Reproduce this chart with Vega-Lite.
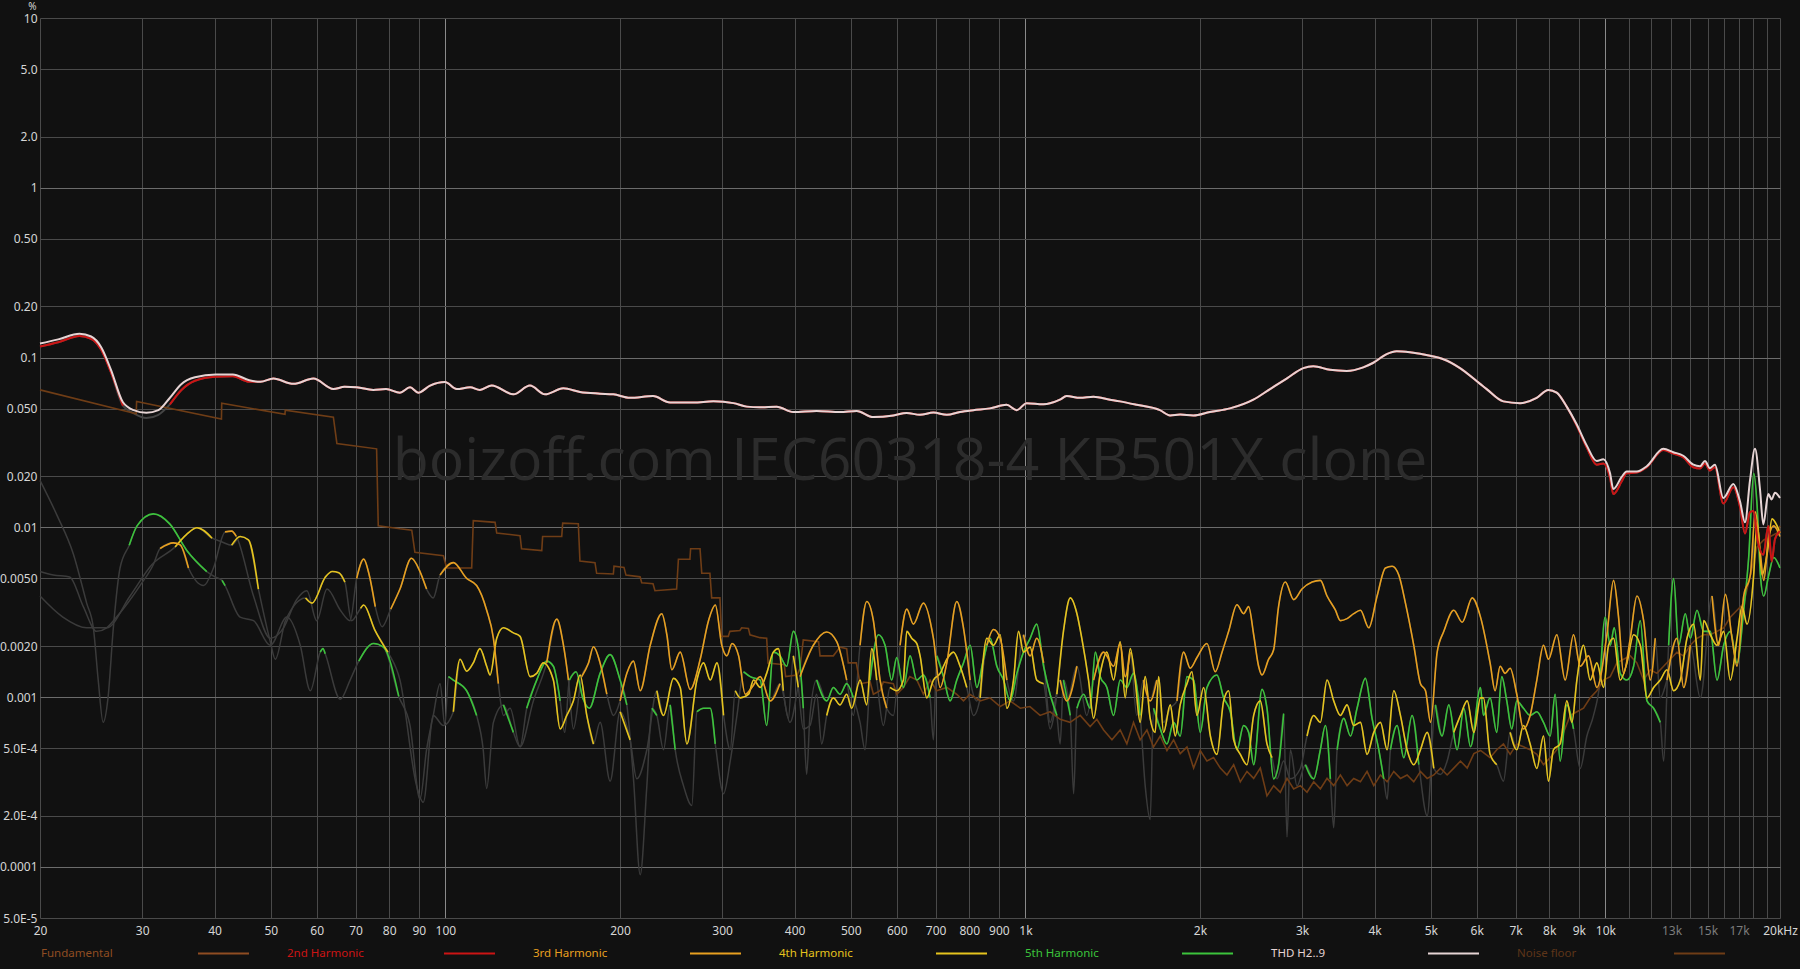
{
"$schema":"https://vega.github.io/schema/vega-lite/v6.json",
"width":1740,"height":900,
"autosize":{"type":"none"},
"padding":{"left":40,"top":18,"right":20,"bottom":51},
"background":"#111111",
"config":{"view":{"stroke":null,"fill":"#111111"},"font":"Noto Sans",
"axis":{"domain":false,"ticks":false,"labelFont":"Noto Sans","labelFontSize":12,"labelColor":"#d4d4d4","gridOpacity":1,"gridWidth":1}},
"datasets":{
"nf":[{"f":20,"v":0.0645},{"f":29.3,"v":0.0467},{"f":29.35,"v":0.0552},{"f":41.1,"v":0.0435},{"f":41.15,"v":0.0539},{"f":52.9,"v":0.0463},{"f":52.95,"v":0.049},{"f":64.1,"v":0.0446},{"f":65,"v":0.0312},{"f":76.1,"v":0.029},{"f":76.6,"v":0.0102},{"f":83.5,"v":0.0098},{"f":87.5,"v":0.00963},{"f":88.6,"v":0.00713},{"f":99.2,"v":0.0068},{"f":100.5,"v":0.00576},{"f":111,"v":0.00576},{"f":111.7,"v":0.01095},{"f":121.8,"v":0.0107},{"f":122.6,"v":0.00927},{"f":134.5,"v":0.00892},{"f":135.3,"v":0.00748},{"f":146.6,"v":0.0073},{"f":147.1,"v":0.00884},{"f":158.7,"v":0.00884},{"f":159.3,"v":0.01058},{"f":169.5,"v":0.0105},{"f":170.6,"v":0.00633},{"f":181.1,"v":0.00619},{"f":182.3,"v":0.00536},{"f":194.8,"v":0.00531},{"f":195.3,"v":0.0059},{"f":203.2,"v":0.00581},{"f":204.8,"v":0.00523},{"f":216.6,"v":0.00511},{"f":218,"v":0.00472},{"f":228,"v":0.00465},{"f":229.8,"v":0.00423},{"f":250.4,"v":0.00433},{"f":252.2,"v":0.00649},{"f":264,"v":0.00649},{"f":264.7,"v":0.00748},{"f":274.8,"v":0.00748},{"f":276.7,"v":0.00536},{"f":285.8,"v":0.00536},{"f":287.8,"v":0.00384},{"f":297.4,"v":0.00384},{"f":299.4,"v":0.00228},{"f":307.4,"v":0.00228},{"f":309.4,"v":0.00244},{"f":322,"v":0.00247},{"f":324.2,"v":0.00256},{"f":333,"v":0.00254},{"f":335,"v":0.00233},{"f":348.6,"v":0.00224},{"f":358,"v":0.00222},{"f":360,"v":0.00159},{"f":384,"v":0.00155},{"f":386,"v":0.00132},{"f":404,"v":0.00135},{"f":408.7,"v":0.00148},{"f":414,"v":0.00217},{"f":440,"v":0.00212},{"f":442.5,"v":0.00175},{"f":466.5,"v":0.00175},{"f":479.1,"v":0.00197},{"f":491.9,"v":0.00193},{"f":495,"v":0.00159},{"f":511,"v":0.00159},{"f":518.7,"v":0.0012},{"f":540,"v":0.00123},{"f":546.9,"v":0.00104},{"f":561.6,"v":0.00109},{"f":569,"v":0.00123},{"f":592,"v":0.0012},{"f":600,"v":0.00104},{"f":616,"v":0.00114},{"f":632,"v":0.00132},{"f":650,"v":0.00126},{"f":667,"v":0.00104},{"f":685,"v":0.00126},{"f":703,"v":0.00109},{"f":732,"v":0.00114},{"f":761,"v":0.00104},{"f":782,"v":0.00095},{"f":802,"v":0.00104},{"f":836,"v":0.00095},{"f":869,"v":0.00099},{"f":904.7,"v":0.00088},{"f":941,"v":0.00095},{"f":980,"v":0.00086},{"f":1018,"v":0.00088},{"f":1060,"v":0.00078},{"f":1103,"v":0.00082},{"f":1148,"v":0.00074},{"f":1194,"v":0.00071},{"f":1243,"v":0.00078},{"f":1293,"v":0.00067},{"f":1328,"v":0.00074},{"f":1364,"v":0.00064},{"f":1410,"v":0.00056},{"f":1457,"v":0.00064},{"f":1496,"v":0.00053},{"f":1536,"v":0.00071},{"f":1577,"v":0.00056},{"f":1620,"v":0.00064},{"f":1663,"v":0.000508},{"f":1708,"v":0.00059},{"f":1754,"v":0.000485},{"f":1801,"v":0.00056},{"f":1849,"v":0.000465},{"f":1899,"v":0.000508},{"f":1950,"v":0.000382},{"f":2002,"v":0.000485},{"f":2056,"v":0.00042},{"f":2111,"v":0.00044},{"f":2168,"v":0.000382},{"f":2226,"v":0.000348},{"f":2286,"v":0.0004},{"f":2347,"v":0.000317},{"f":2410,"v":0.000365},{"f":2475,"v":0.000332},{"f":2541,"v":0.000382},{"f":2609,"v":0.000262},{"f":2679,"v":0.000301},{"f":2751,"v":0.000275},{"f":2825,"v":0.000332},{"f":2901,"v":0.000288},{"f":2979,"v":0.000301},{"f":3059,"v":0.000275},{"f":3141,"v":0.000317},{"f":3225,"v":0.000288},{"f":3312,"v":0.000332},{"f":3401,"v":0.000301},{"f":3492,"v":0.000348},{"f":3586,"v":0.000301},{"f":3682,"v":0.000332},{"f":3781,"v":0.000317},{"f":3882,"v":0.000365},{"f":3987,"v":0.000301},{"f":4094,"v":0.000348},{"f":4204,"v":0.000317},{"f":4316,"v":0.000365},{"f":4432,"v":0.000332},{"f":4551,"v":0.000348},{"f":4673,"v":0.000317},{"f":4799,"v":0.000365},{"f":4928,"v":0.000332},{"f":5060,"v":0.000348},{"f":5196,"v":0.000382},{"f":5335,"v":0.000348},{"f":5478,"v":0.000382},{"f":5625,"v":0.00042},{"f":5777,"v":0.000382},{"f":5932,"v":0.000465},{"f":6091,"v":0.000485},{"f":6327,"v":0.00044},{"f":6497,"v":0.00049},{"f":6671,"v":0.00053},{"f":6851,"v":0.00046},{"f":7034,"v":0.00053},{"f":7223,"v":0.00051},{"f":7417,"v":0.00049},{"f":7617,"v":0.00046},{"f":7821,"v":0.0004},{"f":8031,"v":0.00044},{"f":8246,"v":0.00049},{"f":8468,"v":0.00062},{"f":8695,"v":0.00078},{"f":8929,"v":0.00082},{"f":9168,"v":0.00086},{"f":9415,"v":0.00099},{"f":9667,"v":0.00109},{"f":9927,"v":0.00126},{"f":10193,"v":0.00132},{"f":10467,"v":0.00159},{"f":10748,"v":0.00167},{"f":11037,"v":0.00175},{"f":11333,"v":0.00159},{"f":11638,"v":0.00126},{"f":11950,"v":0.00145},{"f":12271,"v":0.00138},{"f":12600,"v":0.00152},{"f":12939,"v":0.00167},{"f":13286,"v":0.00184},{"f":13643,"v":0.00175},{"f":14009,"v":0.00202},{"f":14385,"v":0.00222},{"f":14771,"v":0.00233},{"f":15168,"v":0.00233},{"f":15575,"v":0.00244},{"f":15993,"v":0.00256},{"f":16422,"v":0.00296},{"f":16864,"v":0.00325},{"f":17316,"v":0.00357},{"f":17781,"v":0.00524},{"f":18259,"v":0.00767},{"f":18749,"v":0.00843},{"f":19252,"v":0.00884},{"f":19769,"v":0.00927},{"f":20000,"v":0.0102}],
"h5":[{"f":20,"v":0.0189},{"f":21.4,"v":0.01176},{"f":22.83,"v":0.00697},{"f":24.07,"v":0.00358},{"f":24.72,"v":0.00256},{"f":25.2,"v":0.00126},{"f":25.7,"v":0.00071},{"f":26.2,"v":0.00099},{"f":26.76,"v":0.00256},{"f":27.48,"v":0.00576},{"f":28.5,"v":0.00785,"g":1},{"f":29.4,"v":0.0102,"g":1},{"f":31.37,"v":0.012,"g":1},{"f":33.5,"v":0.01045,"g":1},{"f":35.82,"v":0.00731,"g":1},{"f":38.78,"v":0.00549,"g":1},{"f":40.1,"v":0.0051},{"f":41.2,"v":0.00487,"g":2},{"f":41.7,"v":0.00454,"g":2},{"f":44.27,"v":0.00296},{"f":46.68,"v":0.00282},{"f":49.9,"v":0.00202},{"f":53.29,"v":0.00296},{"f":56.2,"v":0.00202},{"f":58.5,"v":0.00109},{"f":60.84,"v":0.00184,"g":3},{"f":61.5,"v":0.00193,"g":3},{"f":62.05,"v":0.0018,"g":3},{"f":65.88,"v":0.00097},{"f":68.5,"v":0.00126},{"f":70.9,"v":0.00163,"g":4},{"f":75.2,"v":0.00207,"g":4},{"f":78.2,"v":0.00197,"g":4},{"f":83.1,"v":0.00101,"g":4},{"f":86.9,"v":0.00068},{"f":90.4,"v":0.00025},{"f":92.8,"v":0.00049},{"f":95.3,"v":0.00078},{"f":97.9,"v":0.0012},{"f":99.8,"v":0.00068},{"f":101.2,"v":0.00132,"g":5},{"f":103.2,"v":0.00126,"g":5},{"f":108.8,"v":0.00109,"g":5},{"f":113.2,"v":0.00078,"g":5},{"f":116.2,"v":0.00049},{"f":117.8,"v":0.00029},{"f":121,"v":0.00071},{"f":125.9,"v":0.0009,"g":6},{"f":131,"v":0.00062,"g":6},{"f":134.5,"v":0.00051},{"f":138.1,"v":0.00086,"g":7},{"f":143.7,"v":0.00126,"g":7},{"f":149.5,"v":0.00163,"g":7},{"f":153.5,"v":0.00152,"g":7},{"f":157.7,"v":0.00095,"g":7},{"f":160.6,"v":0.00062},{"f":163.6,"v":0.00126,"g":8},{"f":168,"v":0.00141,"g":8},{"f":172.5,"v":0.00099,"g":8},{"f":177.1,"v":0.00086,"g":8},{"f":184.8,"v":0.00138,"g":8},{"f":192.3,"v":0.00178,"g":8},{"f":200.1,"v":0.00126,"g":8},{"f":205.5,"v":0.0009,"g":8},{"f":211,"v":0.00033},{"f":216.7,"v":0.00009},{"f":222.5,"v":0.0003},{"f":227,"v":0.00086,"g":9},{"f":231.5,"v":0.00078,"g":9},{"f":237.7,"v":0.00049},{"f":244.1,"v":0.0009,"g":10},{"f":249,"v":0.00049,"g":10},{"f":257.4,"v":0.0003},{"f":266,"v":0.00023},{"f":271.4,"v":0.00082,"g":11},{"f":278.7,"v":0.00086,"g":11},{"f":286.2,"v":0.00086,"g":11},{"f":291.9,"v":0.00053,"g":11},{"f":301.7,"v":0.00027},{"f":309.8,"v":0.00042},{"f":318.2,"v":0.00078},{"f":326.7,"v":0.00141,"g":12},{"f":335.4,"v":0.00132,"g":12},{"f":349,"v":0.00126,"g":12},{"f":358,"v":0.00068,"g":12},{"f":367.6,"v":0.00184,"g":12},{"f":377.4,"v":0.00175,"g":12},{"f":387.6,"v":0.00152,"g":12},{"f":398,"v":0.00244,"g":12},{"f":406,"v":0.00193,"g":12},{"f":414.1,"v":0.00086,"g":12},{"f":419.6,"v":0.00035},{"f":425.2,"v":0.00078},{"f":436.6,"v":0.00126,"g":13},{"f":454.4,"v":0.00095,"g":13},{"f":466.5,"v":0.00114,"g":13},{"f":479.1,"v":0.00104,"g":13},{"f":491.9,"v":0.0012,"g":13},{"f":505.1,"v":0.00099,"g":13},{"f":518.7,"v":0.00071},{"f":529,"v":0.00049},{"f":539.7,"v":0.00126,"g":14},{"f":557.8,"v":0.00233,"g":14},{"f":572.8,"v":0.00202,"g":14},{"f":588,"v":0.00126,"g":14},{"f":600,"v":0.00171,"g":14},{"f":616,"v":0.00114,"g":14},{"f":632.7,"v":0.00175,"g":14},{"f":649.6,"v":0.00126,"g":14},{"f":667,"v":0.00135,"g":14},{"f":685,"v":0.00099,"g":14},{"f":694,"v":0.00056},{"f":703.4,"v":0.00175,"g":15},{"f":722.3,"v":0.00132,"g":15},{"f":741.6,"v":0.00095,"g":15},{"f":761.6,"v":0.00126,"g":15},{"f":782,"v":0.00159,"g":15},{"f":803,"v":0.00202,"g":15},{"f":824.6,"v":0.00114,"g":15},{"f":846.7,"v":0.00167,"g":15},{"f":869.4,"v":0.00222,"g":15},{"f":892.8,"v":0.00152,"g":15},{"f":916.8,"v":0.00126,"g":15},{"f":941.4,"v":0.00095,"g":15},{"f":966.7,"v":0.00138,"g":15},{"f":992.5,"v":0.00184,"g":15},{"f":1019,"v":0.00222,"g":15},{"f":1046,"v":0.00269,"g":15},{"f":1075,"v":0.00152,"g":15},{"f":1103,"v":0.00104,"g":15},{"f":1133,"v":0.00078,"g":15},{"f":1148,"v":0.00053},{"f":1163,"v":0.00126,"g":16},{"f":1195,"v":0.00078,"g":16},{"f":1211,"v":0.00027},{"f":1227,"v":0.00086,"g":17},{"f":1260,"v":0.00104,"g":17},{"f":1293,"v":0.00086,"g":17},{"f":1320,"v":0.00184,"g":17},{"f":1346,"v":0.00132,"g":17},{"f":1382,"v":0.00114,"g":17},{"f":1419,"v":0.00078,"g":17},{"f":1457,"v":0.00126,"g":17},{"f":1496,"v":0.00114,"g":17},{"f":1536,"v":0.00138,"g":17},{"f":1577,"v":0.00078,"g":17},{"f":1609,"v":0.0003},{"f":1641,"v":0.00019},{"f":1663,"v":0.00086,"g":18},{"f":1708,"v":0.00065,"g":18},{"f":1754,"v":0.00053,"g":18},{"f":1801,"v":0.00071,"g":18},{"f":1849,"v":0.00059,"g":18},{"f":1899,"v":0.00132,"g":18},{"f":1950,"v":0.00126,"g":18},{"f":2002,"v":0.00062,"g":18},{"f":2056,"v":0.00114,"g":18},{"f":2139,"v":0.00135,"g":18},{"f":2197,"v":0.00099,"g":18},{"f":2256,"v":0.00082,"g":18},{"f":2316,"v":0.00049,"g":18},{"f":2378,"v":0.00068,"g":18},{"f":2426,"v":0.00062,"g":18},{"f":2475,"v":0.0004,"g":18},{"f":2558,"v":0.00111,"g":18},{"f":2609,"v":0.00086,"g":18},{"f":2679,"v":0.00033,"g":18},{"f":2732,"v":0.0004,"g":18},{"f":2788,"v":0.0008,"g":18},{"f":2825,"v":0.00015},{"f":2863,"v":0.00049,"g":19},{"f":2940,"v":0.0003},{"f":3039,"v":0.0004,"g":20},{"f":3141,"v":0.00033,"g":20},{"f":3225,"v":0.00049,"g":20},{"f":3290,"v":0.00068,"g":20},{"f":3356,"v":0.00033,"g":20},{"f":3401,"v":0.00017},{"f":3447,"v":0.00049,"g":21},{"f":3539,"v":0.00075,"g":21},{"f":3634,"v":0.00059,"g":21},{"f":3731,"v":0.00086,"g":21},{"f":3856,"v":0.00129,"g":21},{"f":3960,"v":0.00075,"g":21},{"f":4067,"v":0.00049,"g":21},{"f":4148,"v":0.00033,"g":21},{"f":4204,"v":0.00025},{"f":4260,"v":0.00049,"g":22},{"f":4374,"v":0.00068,"g":22},{"f":4491,"v":0.00044,"g":22},{"f":4642,"v":0.00078,"g":22},{"f":4767,"v":0.0004,"g":22},{"f":4928,"v":0.0002},{"f":5093,"v":0.0009,"g":23},{"f":5229,"v":0.00059,"g":23},{"f":5370,"v":0.0009,"g":23},{"f":5551,"v":0.00049,"g":23},{"f":5701,"v":0.00086,"g":23},{"f":5854,"v":0.00051,"g":23},{"f":6091,"v":0.00114,"g":23},{"f":6162,"v":0.00078,"g":23},{"f":6327,"v":0.00099,"g":23},{"f":6497,"v":0.00062,"g":23},{"f":6627,"v":0.00132,"g":23},{"f":6760,"v":0.00095,"g":23},{"f":6896,"v":0.00065,"g":23},{"f":7034,"v":0.00095,"g":23},{"f":7223,"v":0.00086,"g":23},{"f":7417,"v":0.00078,"g":23},{"f":7617,"v":0.00082,"g":23},{"f":7821,"v":0.00071,"g":23},{"f":8031,"v":0.00059,"g":23},{"f":8191,"v":0.00104,"g":23},{"f":8356,"v":0.00042,"g":23},{"f":8581,"v":0.0009,"g":23},{"f":8811,"v":0.00065,"g":23},{"f":9048,"v":0.00038},{"f":9291,"v":0.00059},{"f":9540,"v":0.00078},{"f":9796,"v":0.00126,"g":24},{"f":9993,"v":0.00296,"g":24},{"f":10193,"v":0.00202,"g":24},{"f":10356,"v":0.00256,"g":24},{"f":10606,"v":0.00138,"g":24},{"f":10891,"v":0.00126,"g":24},{"f":11185,"v":0.00152,"g":24},{"f":11485,"v":0.00282,"g":24},{"f":11794,"v":0.00095,"g":24},{"f":12110,"v":0.00086,"g":24},{"f":12435,"v":0.00071,"g":24},{"f":12600,"v":0.00042},{"f":12853,"v":0.00202,"g":25},{"f":13111,"v":0.00499,"g":25},{"f":13375,"v":0.00202,"g":25},{"f":13733,"v":0.0031,"g":25},{"f":14009,"v":0.00222,"g":25},{"f":14385,"v":0.00325,"g":25},{"f":14771,"v":0.00244,"g":25},{"f":15168,"v":0.00244,"g":25},{"f":15575,"v":0.00126,"g":25},{"f":15993,"v":0.00202,"g":25},{"f":16422,"v":0.00244,"g":25},{"f":16864,"v":0.00159,"g":25},{"f":17316,"v":0.00325,"g":25},{"f":17662,"v":0.00664,"g":25},{"f":18016,"v":0.0208,"g":25},{"f":18259,"v":0.01356,"g":25},{"f":18502,"v":0.00524,"g":25},{"f":18749,"v":0.00394,"g":25},{"f":19124,"v":0.00524,"g":25},{"f":19508,"v":0.00664,"g":25},{"f":20000,"v":0.00576,"g":25}],
"h4":[{"f":20,"v":0.00394},{"f":21.9,"v":0.00296},{"f":24.07,"v":0.00256},{"f":26.06,"v":0.00256},{"f":28.6,"v":0.00394},{"f":31.2,"v":0.00604},{"f":34.2,"v":0.00767,"g":1},{"f":35.8,"v":0.0091,"g":1},{"f":37.3,"v":0.00995,"g":1},{"f":39.6,"v":0.00863,"g":1},{"f":41.2,"v":0.0082},{"f":42.8,"v":0.00785,"g":2},{"f":44.27,"v":0.00884,"g":2},{"f":45.75,"v":0.00843,"g":2},{"f":47.6,"v":0.00433,"g":2},{"f":49.9,"v":0.00212},{"f":50.9,"v":0.00167},{"f":53,"v":0.00282},{"f":57.4,"v":0.00384,"g":3},{"f":58.9,"v":0.00358,"g":3},{"f":62.1,"v":0.0051,"g":3},{"f":63.8,"v":0.00549,"g":3},{"f":65.5,"v":0.0054,"g":3},{"f":67.1,"v":0.00476,"g":3},{"f":68.9,"v":0.00282},{"f":71.4,"v":0.00333,"g":4},{"f":72.3,"v":0.00349,"g":4},{"f":75.5,"v":0.0025,"g":4},{"f":79.6,"v":0.00184,"g":4},{"f":83.5,"v":0.00126},{"f":89.2,"v":0.0003},{"f":91.6,"v":0.00024},{"f":95.3,"v":0.00078},{"f":99.2,"v":0.00068},{"f":103.2,"v":0.00082,"g":5},{"f":106,"v":0.00167,"g":5},{"f":108.8,"v":0.00142,"g":5},{"f":111.7,"v":0.00159,"g":5},{"f":114.7,"v":0.00193,"g":5},{"f":117.8,"v":0.00152,"g":5},{"f":119.4,"v":0.00135,"g":5},{"f":122.6,"v":0.00222,"g":5},{"f":125.9,"v":0.00256,"g":5},{"f":131,"v":0.00239,"g":5},{"f":134.5,"v":0.00228,"g":5},{"f":140,"v":0.00132,"g":5},{"f":143.7,"v":0.00138,"g":5},{"f":147.5,"v":0.00159,"g":5},{"f":153.5,"v":0.00126,"g":5},{"f":157.7,"v":0.00065,"g":5},{"f":161.9,"v":0.00078,"g":5},{"f":166.2,"v":0.00095,"g":5},{"f":170.7,"v":0.00135,"g":5},{"f":175.3,"v":0.00078,"g":5},{"f":180,"v":0.00053,"g":5},{"f":184.8,"v":0.00071},{"f":192.3,"v":0.00032},{"f":200.1,"v":0.00082,"g":6},{"f":208.2,"v":0.00056,"g":6},{"f":213.8,"v":0.00033},{"f":222.5,"v":0.00049},{"f":231.5,"v":0.00109,"g":7},{"f":237.7,"v":0.00078,"g":7},{"f":247.3,"v":0.00129,"g":7},{"f":254,"v":0.00114,"g":7},{"f":260.8,"v":0.00053,"g":7},{"f":271.4,"v":0.00126,"g":7},{"f":278.7,"v":0.00159,"g":7},{"f":286.2,"v":0.00126,"g":7},{"f":293.9,"v":0.00159,"g":7},{"f":301.7,"v":0.00078,"g":7},{"f":309.8,"v":0.00049},{"f":316,"v":0.00109,"g":8},{"f":322.4,"v":0.00099,"g":8},{"f":333.2,"v":0.00104,"g":8},{"f":339.9,"v":0.00126,"g":8},{"f":349,"v":0.00114,"g":8},{"f":358,"v":0.00138,"g":8},{"f":367.6,"v":0.00184,"g":8},{"f":375,"v":0.00193,"g":8},{"f":382.5,"v":0.00109,"g":8},{"f":390.2,"v":0.00075},{"f":398,"v":0.00175,"g":9},{"f":406,"v":0.00114,"g":9},{"f":414.1,"v":0.00065},{"f":425.2,"v":0.00068},{"f":436.6,"v":0.00104},{"f":445.5,"v":0.00053},{"f":454.4,"v":0.00078,"g":11},{"f":466.5,"v":0.00099,"g":11},{"f":479.1,"v":0.0009,"g":11},{"f":491.9,"v":0.00104,"g":11},{"f":501.8,"v":0.00086,"g":11},{"f":518.7,"v":0.00126,"g":11},{"f":532.6,"v":0.0009,"g":11},{"f":543.3,"v":0.00193,"g":11},{"f":554.2,"v":0.00126,"g":11},{"f":569,"v":0.00068},{"f":584.3,"v":0.00114,"g":12},{"f":600,"v":0.00109,"g":12},{"f":616.1,"v":0.00126,"g":12},{"f":624.4,"v":0.00244,"g":12},{"f":636.8,"v":0.00222,"g":12},{"f":649.6,"v":0.00207,"g":12},{"f":658.3,"v":0.00175,"g":12},{"f":676,"v":0.00099,"g":12},{"f":694.1,"v":0.00126,"g":12},{"f":712.8,"v":0.00138,"g":12},{"f":731.9,"v":0.00167,"g":12},{"f":751.5,"v":0.00184,"g":12},{"f":771.7,"v":0.00152,"g":12},{"f":792.4,"v":0.00114,"g":12},{"f":813.7,"v":0.00078},{"f":835.5,"v":0.00099,"g":13},{"f":858,"v":0.00222,"g":13},{"f":881,"v":0.00202,"g":13},{"f":904.7,"v":0.00233,"g":13},{"f":929,"v":0.00086,"g":13},{"f":953.9,"v":0.00126,"g":13},{"f":973,"v":0.00244,"g":13},{"f":992.5,"v":0.00184,"g":13},{"f":1019,"v":0.00197,"g":13},{"f":1046,"v":0.00126,"g":13},{"f":1075,"v":0.0012,"g":13},{"f":1103,"v":0.00065},{"f":1133,"v":0.00104,"g":14},{"f":1163,"v":0.00244,"g":14},{"f":1195,"v":0.00384,"g":14},{"f":1227,"v":0.0031,"g":14},{"f":1251,"v":0.00222,"g":14},{"f":1285,"v":0.00126,"g":14},{"f":1311,"v":0.00075,"g":14},{"f":1346,"v":0.00138,"g":14},{"f":1382,"v":0.00184,"g":14},{"f":1419,"v":0.00126,"g":14},{"f":1457,"v":0.00212,"g":14},{"f":1486,"v":0.00099,"g":14},{"f":1516,"v":0.00193,"g":14},{"f":1546,"v":0.00126,"g":14},{"f":1577,"v":0.00071,"g":14},{"f":1609,"v":0.00132,"g":14},{"f":1641,"v":0.00075,"g":14},{"f":1674,"v":0.00062,"g":14},{"f":1697,"v":0.00132,"g":14},{"f":1731,"v":0.00062,"g":14},{"f":1777,"v":0.0009,"g":14},{"f":1813,"v":0.00059,"g":14},{"f":1849,"v":0.0009,"g":14},{"f":1899,"v":0.0012,"g":14},{"f":1937,"v":0.00141,"g":14},{"f":1976,"v":0.00078,"g":14},{"f":2029,"v":0.00114,"g":14},{"f":2084,"v":0.00059,"g":14},{"f":2139,"v":0.00046,"g":14},{"f":2197,"v":0.00095,"g":14},{"f":2241,"v":0.00109,"g":14},{"f":2286,"v":0.00056,"g":14},{"f":2347,"v":0.00046,"g":14},{"f":2410,"v":0.0004,"g":14},{"f":2475,"v":0.00078,"g":14},{"f":2541,"v":0.00095,"g":14},{"f":2609,"v":0.00053,"g":14},{"f":2662,"v":0.00044,"g":14},{"f":2715,"v":0.00033},{"f":2788,"v":0.00042},{"f":2863,"v":0.00033},{"f":2979,"v":0.00038},{"f":3059,"v":0.00059,"g":15},{"f":3141,"v":0.00078,"g":15},{"f":3225,"v":0.00071,"g":15},{"f":3312,"v":0.00126,"g":15},{"f":3401,"v":0.00095,"g":15},{"f":3492,"v":0.00078,"g":15},{"f":3586,"v":0.0009,"g":15},{"f":3682,"v":0.00068,"g":15},{"f":3781,"v":0.00071,"g":15},{"f":3882,"v":0.00046,"g":15},{"f":3987,"v":0.00062,"g":15},{"f":4094,"v":0.00071,"g":15},{"f":4204,"v":0.00049,"g":15},{"f":4316,"v":0.00109,"g":15},{"f":4432,"v":0.00078,"g":15},{"f":4551,"v":0.00049,"g":15},{"f":4673,"v":0.0004,"g":15},{"f":4799,"v":0.00049,"g":15},{"f":4928,"v":0.00062,"g":15},{"f":5060,"v":0.00038,"g":15},{"f":5196,"v":0.00035},{"f":5335,"v":0.00042},{"f":5478,"v":0.00062,"g":16},{"f":5625,"v":0.00078,"g":16},{"f":5777,"v":0.00095,"g":16},{"f":5932,"v":0.00062,"g":16},{"f":6091,"v":0.00099,"g":16},{"f":6162,"v":0.00099,"g":16},{"f":6327,"v":0.00046,"g":16},{"f":6497,"v":0.0004,"g":16},{"f":6671,"v":0.00032},{"f":6851,"v":0.00062,"g":17},{"f":7034,"v":0.00049,"g":17},{"f":7223,"v":0.00068,"g":17},{"f":7417,"v":0.00053,"g":17},{"f":7617,"v":0.00038,"g":17},{"f":7821,"v":0.00059,"g":17},{"f":7977,"v":0.00032,"g":17},{"f":8138,"v":0.00049,"g":17},{"f":8356,"v":0.00053,"g":17},{"f":8581,"v":0.00095,"g":17},{"f":8754,"v":0.00071,"g":17},{"f":8929,"v":0.00126,"g":17},{"f":9168,"v":0.00202,"g":17},{"f":9415,"v":0.00126,"g":17},{"f":9667,"v":0.00159,"g":17},{"f":9927,"v":0.00114,"g":17},{"f":10126,"v":0.00202,"g":17},{"f":10329,"v":0.00222,"g":17},{"f":10606,"v":0.00126,"g":17},{"f":10891,"v":0.00159,"g":17},{"f":11185,"v":0.00233,"g":17},{"f":11485,"v":0.00202,"g":17},{"f":11794,"v":0.00099,"g":17},{"f":12110,"v":0.00114,"g":17},{"f":12435,"v":0.00126,"g":17},{"f":12769,"v":0.00145,"g":17},{"f":13111,"v":0.00109,"g":17},{"f":13463,"v":0.00126,"g":17},{"f":13824,"v":0.00222,"g":17},{"f":14196,"v":0.00269,"g":17},{"f":14577,"v":0.00126,"g":17},{"f":14771,"v":0.00282,"g":17},{"f":15168,"v":0.00233,"g":17},{"f":15575,"v":0.00202,"g":17},{"f":15993,"v":0.00244,"g":17},{"f":16422,"v":0.00126,"g":17},{"f":16864,"v":0.00222,"g":17},{"f":17200,"v":0.00341,"g":17},{"f":17545,"v":0.00269,"g":17},{"f":18016,"v":0.00524,"g":17},{"f":18259,"v":0.0107,"g":17},{"f":18626,"v":0.00524,"g":17},{"f":19001,"v":0.00697,"g":17},{"f":19380,"v":0.01121,"g":17},{"f":19769,"v":0.0102,"g":17},{"f":20000,"v":0.00927,"g":17}],
"h3":[{"f":20,"v":0.00549},{"f":21.09,"v":0.00524},{"f":22.5,"v":0.0051},{"f":23.75,"v":0.00341},{"f":25.05,"v":0.00244},{"f":26.06,"v":0.00256},{"f":27.1,"v":0.00296},{"f":29.75,"v":0.00454},{"f":31.37,"v":0.00604},{"f":32.22,"v":0.0075,"g":1},{"f":33.97,"v":0.0081,"g":1},{"f":34.88,"v":0.0079,"g":1},{"f":36.06,"v":0.00576,"g":1},{"f":38.3,"v":0.00454},{"f":39.82,"v":0.00576},{"f":41.7,"v":0.0094,"g":2},{"f":42.8,"v":0.0095,"g":2},{"f":43.6,"v":0.00884,"g":2},{"f":46.68,"v":0.00394},{"f":49.9,"v":0.00222},{"f":52.6,"v":0.00256},{"f":55.4,"v":0.00375},{"f":57.7,"v":0.00423},{"f":60,"v":0.00282},{"f":62.5,"v":0.00433},{"f":65.9,"v":0.00325},{"f":68.5,"v":0.00282},{"f":70.3,"v":0.005,"g":3},{"f":72.3,"v":0.0065,"g":3},{"f":73.9,"v":0.00524,"g":3},{"f":75.7,"v":0.00341,"g":3},{"f":77.8,"v":0.0026},{"f":80.5,"v":0.0033,"g":4},{"f":83.5,"v":0.00433,"g":4},{"f":87.4,"v":0.00657,"g":4},{"f":90.4,"v":0.00549,"g":4},{"f":92.8,"v":0.00433,"g":4},{"f":95.3,"v":0.00384},{"f":97.9,"v":0.00524,"g":5},{"f":103.2,"v":0.0062,"g":5},{"f":108.8,"v":0.005,"g":5},{"f":113.2,"v":0.00454,"g":5},{"f":117.8,"v":0.00325,"g":5},{"f":121,"v":0.00222,"g":5},{"f":123.4,"v":0.0012,"g":5},{"f":125.9,"v":0.00078},{"f":129.3,"v":0.00086},{"f":134.5,"v":0.00051},{"f":141.8,"v":0.00095},{"f":149.5,"v":0.00159,"g":6},{"f":155.6,"v":0.00288,"g":6},{"f":159.8,"v":0.00202,"g":6},{"f":163,"v":0.00126,"g":6},{"f":166.2,"v":0.00065},{"f":171.8,"v":0.00132,"g":7},{"f":176.5,"v":0.00159,"g":7},{"f":180,"v":0.00198,"g":7},{"f":184.8,"v":0.00159,"g":7},{"f":189.8,"v":0.00104,"g":7},{"f":194.9,"v":0.00078},{"f":200.1,"v":0.00095,"g":8},{"f":205.5,"v":0.00138,"g":8},{"f":211,"v":0.00163,"g":8},{"f":216.7,"v":0.00109,"g":8},{"f":225.5,"v":0.00202,"g":8},{"f":236.1,"v":0.0031,"g":8},{"f":240.9,"v":0.00233,"g":8},{"f":245.7,"v":0.00145,"g":8},{"f":254,"v":0.00184,"g":8},{"f":264.3,"v":0.00111,"g":8},{"f":275,"v":0.00167,"g":8},{"f":284.2,"v":0.00282,"g":8},{"f":292,"v":0.00349,"g":8},{"f":299.6,"v":0.00202,"g":8},{"f":305.7,"v":0.00175,"g":8},{"f":312,"v":0.00207,"g":8},{"f":320.3,"v":0.00175,"g":8},{"f":328.8,"v":0.00104,"g":8},{"f":337.6,"v":0.00114,"g":8},{"f":349,"v":0.00132,"g":8},{"f":363,"v":0.00095,"g":8},{"f":377.4,"v":0.0012,"g":8},{"f":392.8,"v":0.00071},{"f":408.7,"v":0.00132,"g":9},{"f":430.9,"v":0.00202,"g":9},{"f":454.4,"v":0.00242,"g":9},{"f":472.8,"v":0.00212,"g":9},{"f":491.9,"v":0.00126,"g":9},{"f":505.1,"v":0.00078},{"f":518.7,"v":0.00202,"g":10},{"f":532.6,"v":0.00366,"g":10},{"f":546.9,"v":0.00282,"g":10},{"f":561.6,"v":0.00126,"g":10},{"f":576.6,"v":0.00086,"g":10},{"f":592.1,"v":0.00078},{"f":608,"v":0.00202,"g":11},{"f":624.4,"v":0.0033,"g":11},{"f":641.1,"v":0.00269,"g":11},{"f":667,"v":0.00358,"g":11},{"f":694.1,"v":0.00222,"g":11},{"f":712.8,"v":0.00114,"g":11},{"f":731.9,"v":0.00159,"g":11},{"f":761.6,"v":0.00366,"g":11},{"f":782,"v":0.00256,"g":11},{"f":803,"v":0.00126,"g":11},{"f":824.6,"v":0.00095},{"f":858,"v":0.00202,"g":12},{"f":881,"v":0.0025,"g":12},{"f":904.7,"v":0.00222,"g":12},{"f":929,"v":0.00126,"g":12},{"f":953.9,"v":0.00095},{"f":992.5,"v":0.00233,"g":13},{"f":1019,"v":0.00175,"g":13},{"f":1046,"v":0.00222,"g":13},{"f":1075,"v":0.00159,"g":13},{"f":1103,"v":0.00071},{"f":1148,"v":0.00126,"g":14},{"f":1179,"v":0.00095,"g":14},{"f":1227,"v":0.00152,"g":14},{"f":1276,"v":0.00078},{"f":1311,"v":0.00126,"g":15},{"f":1364,"v":0.00184,"g":15},{"f":1419,"v":0.00152,"g":15},{"f":1457,"v":0.00207,"g":15},{"f":1486,"v":0.00132,"g":15},{"f":1516,"v":0.00184,"g":15},{"f":1556,"v":0.00078},{"f":1598,"v":0.00126,"g":16},{"f":1641,"v":0.00095,"g":16},{"f":1685,"v":0.00126,"g":16},{"f":1731,"v":0.00071},{"f":1777,"v":0.00086},{"f":1825,"v":0.00095,"g":17},{"f":1874,"v":0.00184,"g":17},{"f":1924,"v":0.00148,"g":17},{"f":1976,"v":0.00171,"g":17},{"f":2056,"v":0.00207,"g":17},{"f":2125,"v":0.00141,"g":17},{"f":2183,"v":0.00184,"g":17},{"f":2241,"v":0.00244,"g":17},{"f":2316,"v":0.0035,"g":17},{"f":2378,"v":0.0031,"g":17},{"f":2426,"v":0.00341,"g":17},{"f":2475,"v":0.00233,"g":17},{"f":2524,"v":0.00152,"g":17},{"f":2558,"v":0.00135,"g":17},{"f":2626,"v":0.00167,"g":17},{"f":2679,"v":0.0019,"g":17},{"f":2732,"v":0.00341,"g":17},{"f":2806,"v":0.00476,"g":17},{"f":2901,"v":0.00375,"g":17},{"f":2998,"v":0.00433,"g":17},{"f":3121,"v":0.00476,"g":17},{"f":3225,"v":0.00487,"g":17},{"f":3312,"v":0.00394,"g":17},{"f":3424,"v":0.00325,"g":17},{"f":3492,"v":0.00282,"g":17},{"f":3586,"v":0.0029,"g":17},{"f":3682,"v":0.0031,"g":17},{"f":3781,"v":0.00325,"g":17},{"f":3909,"v":0.00256,"g":17},{"f":4040,"v":0.00394,"g":17},{"f":4176,"v":0.00576,"g":17},{"f":4288,"v":0.0059,"g":17},{"f":4403,"v":0.00524,"g":17},{"f":4521,"v":0.00358,"g":17},{"f":4673,"v":0.00202,"g":17},{"f":4799,"v":0.0012,"g":17},{"f":4896,"v":0.00109,"g":17},{"f":4995,"v":0.00071,"g":17},{"f":5128,"v":0.00184,"g":17},{"f":5265,"v":0.00244,"g":17},{"f":5478,"v":0.00325,"g":17},{"f":5664,"v":0.00276,"g":17},{"f":5893,"v":0.00384,"g":17},{"f":6091,"v":0.00296,"g":17},{"f":6327,"v":0.00159,"g":17},{"f":6454,"v":0.00109,"g":17},{"f":6584,"v":0.00152,"g":17},{"f":6716,"v":0.00138,"g":17},{"f":6851,"v":0.00148,"g":17},{"f":7034,"v":0.00104,"g":17},{"f":7223,"v":0.00065,"g":17},{"f":7417,"v":0.00078,"g":17},{"f":7617,"v":0.00126,"g":17},{"f":7821,"v":0.00202,"g":17},{"f":7977,"v":0.00167,"g":17},{"f":8246,"v":0.00233,"g":17},{"f":8524,"v":0.00126,"g":17},{"f":8811,"v":0.00233,"g":17},{"f":9048,"v":0.00152,"g":17},{"f":9353,"v":0.00175,"g":17},{"f":9667,"v":0.00114,"g":17},{"f":10059,"v":0.00233,"g":17},{"f":10329,"v":0.00487,"g":17},{"f":10536,"v":0.00296,"g":17},{"f":10748,"v":0.00138,"g":17},{"f":11037,"v":0.00222,"g":17},{"f":11333,"v":0.00394,"g":17},{"f":11638,"v":0.00282,"g":17},{"f":11950,"v":0.00126,"g":17},{"f":12187,"v":0.00222,"g":17},{"f":12435,"v":0.00099},{"f":12769,"v":0.00126,"g":18},{"f":13286,"v":0.00222,"g":18},{"f":13643,"v":0.00114,"g":18},{"f":14009,"v":0.00202,"g":18},{"f":14577,"v":0.00099},{"f":15269,"v":0.00394,"g":19},{"f":15679,"v":0.00202,"g":19},{"f":16100,"v":0.00403,"g":19},{"f":16532,"v":0.00222,"g":19},{"f":16864,"v":0.00152,"g":19},{"f":17316,"v":0.00394,"g":19},{"f":17781,"v":0.00524,"g":19},{"f":18138,"v":0.01233,"g":19},{"f":18502,"v":0.00697,"g":19},{"f":18749,"v":0.00487,"g":19},{"f":19124,"v":0.00884,"g":19},{"f":19508,"v":0.0102,"g":19},{"f":20000,"v":0.00884,"g":19}],
"h2":[{"f":20,"v":0.116,"g":1},{"f":21.5,"v":0.123,"g":1},{"f":23.4,"v":0.134,"g":1},{"f":24.5,"v":0.129,"g":1},{"f":25.5,"v":0.111,"g":1},{"f":26.5,"v":0.082,"g":1},{"f":27.8,"v":0.052,"g":1},{"f":29,"v":0.047},{"f":30.5,"v":0.044},{"f":32,"v":0.046},{"f":33.5,"v":0.053,"g":2},{"f":35,"v":0.064,"g":2},{"f":37,"v":0.073,"g":2},{"f":40.2,"v":0.077,"g":2},{"f":43,"v":0.0775,"g":2},{"f":45.9,"v":0.072,"g":2},{"f":48,"v":0.072,"g":2},{"f":50.5,"v":0.0752,"g":2},{"f":54.7,"v":0.07,"g":2},{"f":59.2,"v":0.0752,"g":2},{"f":64.1,"v":0.0652,"g":2},{"f":67,"v":0.0672,"g":2},{"f":70.3,"v":0.0668,"g":2},{"f":75.1,"v":0.0645,"g":2},{"f":79,"v":0.0652,"g":2},{"f":83.5,"v":0.0621,"g":2},{"f":86.9,"v":0.0668,"g":2},{"f":89.8,"v":0.0621,"g":2},{"f":94.1,"v":0.0684,"g":2},{"f":99.8,"v":0.0717,"g":2},{"f":104.6,"v":0.0652,"g":2},{"f":110.3,"v":0.0668,"g":2},{"f":114.7,"v":0.0645,"g":2},{"f":120.2,"v":0.0684,"g":2},{"f":131,"v":0.0607,"g":2},{"f":139.9,"v":0.0684,"g":2},{"f":148.5,"v":0.0607,"g":2},{"f":159.7,"v":0.0659,"g":2},{"f":170.6,"v":0.0627,"g":2},{"f":184.7,"v":0.0613,"g":2},{"f":194.8,"v":0.0607,"g":2},{"f":208,"v":0.0579,"g":2},{"f":228,"v":0.0593,"g":2},{"f":244,"v":0.0544,"g":2},{"f":267.6,"v":0.0544,"g":2},{"f":289.8,"v":0.0552,"g":2},{"f":313.7,"v":0.0539,"g":2},{"f":330.8,"v":0.0514,"g":2},{"f":348.6,"v":0.0509,"g":2},{"f":372.6,"v":0.0514,"g":2},{"f":397.9,"v":0.0478,"g":2},{"f":436.6,"v":0.0485,"g":2},{"f":478.9,"v":0.0478,"g":2},{"f":511.7,"v":0.0485,"g":2},{"f":547,"v":0.0446,"g":2},{"f":592,"v":0.0456,"g":2},{"f":624,"v":0.0472,"g":2},{"f":658,"v":0.046,"g":2},{"f":694,"v":0.0474,"g":2},{"f":732,"v":0.046,"g":2},{"f":771,"v":0.0478,"g":2},{"f":813,"v":0.049,"g":2},{"f":869,"v":0.0502,"g":2},{"f":928,"v":0.0527,"g":2},{"f":966,"v":0.049,"g":2},{"f":1005,"v":0.0539,"g":2},{"f":1074,"v":0.0531,"g":2},{"f":1147,"v":0.0565,"g":2},{"f":1178,"v":0.0593,"g":2},{"f":1242,"v":0.0579,"g":2},{"f":1310,"v":0.0587,"g":2},{"f":1399,"v":0.0565,"g":2},{"f":1456,"v":0.0552,"g":2},{"f":1555,"v":0.0527,"g":2},{"f":1706,"v":0.049,"g":2},{"f":1776,"v":0.0456,"g":2},{"f":1848,"v":0.0462,"g":2},{"f":1948,"v":0.0456,"g":2},{"f":2080,"v":0.0478,"g":2},{"f":2253,"v":0.0502,"g":2},{"f":2472,"v":0.0565,"g":2},{"f":2641,"v":0.0652,"g":2},{"f":2821,"v":0.0752,"g":2},{"f":3014,"v":0.0867,"g":2},{"f":3136,"v":0.0889,"g":2},{"f":3350,"v":0.0847,"g":2},{"f":3580,"v":0.0834,"g":2},{"f":3824,"v":0.0876,"g":2},{"f":3980,"v":0.0932,"g":2},{"f":4196,"v":0.1048,"g":2},{"f":4366,"v":0.1089,"g":2},{"f":4604,"v":0.1074,"g":2},{"f":4986,"v":0.1025,"g":2},{"f":5256,"v":0.0977,"g":2},{"f":5614,"v":0.0867,"g":2},{"f":6080,"v":0.07,"g":2},{"f":6242,"v":0.0652,"g":2},{"f":6668,"v":0.0552,"g":2},{"f":7124,"v":0.0539,"g":2},{"f":7612,"v":0.0579,"g":2},{"f":7972,"v":0.0645,"g":2},{"f":8242,"v":0.0621,"g":2},{"f":8576,"v":0.0514,"g":2},{"f":8922,"v":0.0398,"g":2},{"f":9284,"v":0.0296,"g":2},{"f":9662,"v":0.0234,"g":2},{"f":9920,"v":0.0238,"g":2},{"f":10186,"v":0.0196,"g":2},{"f":10320,"v":0.0157,"g":2},{"f":10666,"v":0.0186,"g":2},{"f":10880,"v":0.0208,"g":2},{"f":11324,"v":0.021,"g":2},{"f":11784,"v":0.0226,"g":2},{"f":12584,"v":0.0285,"g":2},{"f":13094,"v":0.0272,"g":2},{"f":13624,"v":0.0258,"g":2},{"f":14176,"v":0.0226,"g":2},{"f":14558,"v":0.0222,"g":2},{"f":14848,"v":0.0238,"g":2},{"f":15144,"v":0.0216,"g":2},{"f":15448,"v":0.0226,"g":2},{"f":15970,"v":0.0138,"g":2},{"f":16618,"v":0.0172,"g":2},{"f":17064,"v":0.0132,"g":2},{"f":17406,"v":0.0092,"g":2},{"f":17754,"v":0.0123,"g":2},{"f":18000,"v":0.0125,"g":2},{"f":18300,"v":0.0084,"g":2},{"f":18718,"v":0.0069,"g":2},{"f":19094,"v":0.0102,"g":2},{"f":19348,"v":0.0063,"g":2},{"f":19604,"v":0.0085,"g":2},{"f":20000,"v":0.0095,"g":2}],
"thd":[{"f":20,"v":0.121},{"f":21.5,"v":0.128},{"f":23.4,"v":0.138},{"f":24.5,"v":0.133},{"f":25.5,"v":0.115},{"f":26.5,"v":0.085},{"f":27.8,"v":0.0545},{"f":29,"v":0.049},{"f":30.5,"v":0.0473},{"f":32,"v":0.049},{"f":33.5,"v":0.058},{"f":35,"v":0.0695},{"f":37,"v":0.0765},{"f":40.2,"v":0.0795},{"f":43,"v":0.0795},{"f":45.9,"v":0.0735},{"f":48,"v":0.072},{"f":50.5,"v":0.0752},{"f":54.7,"v":0.07},{"f":59.2,"v":0.0752},{"f":64.1,"v":0.0652},{"f":67,"v":0.0672},{"f":70.3,"v":0.0668},{"f":75.1,"v":0.0645},{"f":79,"v":0.0652},{"f":83.5,"v":0.0621},{"f":86.9,"v":0.0668},{"f":89.8,"v":0.0621},{"f":94.1,"v":0.0684},{"f":99.8,"v":0.0717},{"f":104.6,"v":0.0652},{"f":110.3,"v":0.0668},{"f":114.7,"v":0.0645},{"f":120.2,"v":0.0684},{"f":131,"v":0.0607},{"f":139.9,"v":0.0684},{"f":148.5,"v":0.0607},{"f":159.7,"v":0.0659},{"f":170.6,"v":0.0627},{"f":184.7,"v":0.0613},{"f":194.8,"v":0.0607},{"f":208,"v":0.0579},{"f":228,"v":0.0593},{"f":244,"v":0.0544},{"f":267.6,"v":0.0544},{"f":289.8,"v":0.0552},{"f":313.7,"v":0.0539},{"f":330.8,"v":0.0514},{"f":348.6,"v":0.0509},{"f":372.6,"v":0.0514},{"f":397.9,"v":0.0478},{"f":436.6,"v":0.0485},{"f":478.9,"v":0.0478},{"f":511.7,"v":0.0485},{"f":547,"v":0.0446},{"f":592,"v":0.0456},{"f":624,"v":0.0472},{"f":658,"v":0.046},{"f":694,"v":0.0474},{"f":732,"v":0.046},{"f":771,"v":0.0478},{"f":813,"v":0.049},{"f":869,"v":0.0502},{"f":928,"v":0.0527},{"f":966,"v":0.049},{"f":1005,"v":0.0539},{"f":1074,"v":0.0531},{"f":1147,"v":0.0565},{"f":1178,"v":0.0593},{"f":1242,"v":0.0579},{"f":1310,"v":0.0587},{"f":1399,"v":0.0565},{"f":1456,"v":0.0552},{"f":1555,"v":0.0527},{"f":1706,"v":0.049},{"f":1776,"v":0.0456},{"f":1848,"v":0.0462},{"f":1948,"v":0.0456},{"f":2080,"v":0.0478},{"f":2253,"v":0.0502},{"f":2472,"v":0.0565},{"f":2641,"v":0.0652},{"f":2821,"v":0.0752},{"f":3014,"v":0.0867},{"f":3136,"v":0.0889},{"f":3350,"v":0.0847},{"f":3580,"v":0.0834},{"f":3824,"v":0.0876},{"f":3980,"v":0.0932},{"f":4196,"v":0.1048},{"f":4366,"v":0.1089},{"f":4604,"v":0.1074},{"f":4986,"v":0.1025},{"f":5256,"v":0.0977},{"f":5614,"v":0.0867},{"f":6080,"v":0.07},{"f":6242,"v":0.0652},{"f":6668,"v":0.0552},{"f":7124,"v":0.0539},{"f":7612,"v":0.0579},{"f":7972,"v":0.0645},{"f":8242,"v":0.0621},{"f":8576,"v":0.0514},{"f":8922,"v":0.0405},{"f":9284,"v":0.0304},{"f":9662,"v":0.0246},{"f":9920,"v":0.0252},{"f":10186,"v":0.0208},{"f":10320,"v":0.0168},{"f":10666,"v":0.0198},{"f":10880,"v":0.0213},{"f":11324,"v":0.0213},{"f":11784,"v":0.0229},{"f":12584,"v":0.029},{"f":13094,"v":0.0277},{"f":13624,"v":0.0264},{"f":14176,"v":0.0234},{"f":14558,"v":0.0229},{"f":14848,"v":0.0246},{"f":15144,"v":0.0223},{"f":15448,"v":0.0234},{"f":15970,"v":0.0149},{"f":16618,"v":0.018},{"f":17064,"v":0.0142},{"f":17406,"v":0.0107},{"f":17754,"v":0.0189},{"f":18110,"v":0.029},{"f":18472,"v":0.0168},{"f":18718,"v":0.0104},{"f":19094,"v":0.0157},{"f":19348,"v":0.0146},{"f":19604,"v":0.016},{"f":20000,"v":0.0149}]
},
"encoding":{
"x":{"field":"f","type":"quantitative","scale":{"type":"log","domain":[20,20000],"nice":false,"zero":false},
"axis":{"title":null,"grid":true,"values":[20,30,40,50,60,70,80,90,100,200,300,400,500,600,700,800,900,1000,2000,3000,4000,5000,6000,7000,8000,9000,10000,11000,12000,13000,14000,15000,16000,17000,18000,19000,20000],
"labelExpr":"datum.value==20000?'20kHz':(datum.value==11000||datum.value==12000||datum.value==14000||datum.value==16000||datum.value==18000||datum.value==19000)?'':datum.value>=1000?(datum.value/1000)+'k':''+datum.value",
"gridColor":{"condition":{"test":"datum.value==100||datum.value==1000||datum.value==10000","value":"#8a8a8a"},"value":"#4a4a4a"},
"labelColor":{"condition":{"test":"datum.value==13000||datum.value==15000||datum.value==17000","value":"#7c7c7c"},"value":"#d6d6d6"},
"labelPadding":7,"labelOverlap":false,"labelBound":false,"labelFlush":false}},
"y":{"field":"v","type":"quantitative","scale":{"type":"log","domain":[0.00005,10],"nice":false,"zero":false},
"axis":{"title":"%","titleAngle":0,"titleAlign":"center","titleBaseline":"middle","titleX":-8,"titleY":-12,"titleFont":"Noto Sans","titleFontSize":10,"titleFontWeight":"normal","titleColor":"#d6d6d6","grid":true,
"values":[10,5,2,1,0.5,0.2,0.1,0.05,0.02,0.01,0.005,0.002,0.001,0.0005,0.0002,0.0001,0.00005],
"labelExpr":"datum.value==5?'5.0':datum.value==2?'2.0':datum.value==0.5?'0.50':datum.value==0.2?'0.20':datum.value==0.05?'0.050':datum.value==0.02?'0.020':datum.value==0.005?'0.0050':datum.value==0.002?'0.0020':datum.value==0.0005?'5.0E-4':datum.value==0.0002?'2.0E-4':datum.value==0.00005?'5.0E-5':''+datum.value",
"gridColor":{"condition":{"test":"datum.value==1||datum.value==0.1||datum.value==0.01||datum.value==0.001||datum.value==0.0001","value":"#6c6c6c"},"value":"#4a4a4a"},
"labelColor":"#d6d6d6","labelPadding":3,"labelOverlap":false,"labelBound":false,"labelFlush":false}}
},
"layer":[
{"data":{"values":[{"f":632.5,"v":0.0244,"t":"boizoff.com IEC60318-4 KB501X clone"}]},"mark":{"type":"text","font":"Open Sans","fontSize":59,"color":"#2c2c2c","align":"center","baseline":"middle"},"encoding":{"text":{"field":"t","type":"nominal"}}},
{"data":{"name":"h5"},"mark":{"type":"line","stroke":"#3b3b3b","strokeWidth":1.5,"interpolate":"monotone"},"encoding":{}},
{"data":{"name":"h4"},"mark":{"type":"line","stroke":"#3b3b3b","strokeWidth":1.5,"interpolate":"monotone"},"encoding":{}},
{"data":{"name":"h3"},"mark":{"type":"line","stroke":"#3b3b3b","strokeWidth":1.5,"interpolate":"monotone"},"encoding":{}},
{"data":{"name":"h2"},"mark":{"type":"line","stroke":"#444444","strokeWidth":2,"interpolate":"monotone"},"encoding":{}},
{"data":{"name":"nf"},"mark":{"type":"line","strokeWidth":1.6},
"encoding":{"color":{"datum":"Noise floor","type":"nominal",
"scale":{"domain":["Fundamental","2nd Harmonic","3rd Harmonic","4th Harmonic","5th Harmonic","THD H2..9","Noise floor"],"range":["#8f4d22","#cc1414","#e8a020","#e6c41e","#3cc43c","#e6d4d4","#6f3d16"]},
"legend":{"orient":"none","legendX":157,"legendY":909,"direction":"horizontal","columns":7,"title":null,"symbolType":"stroke","symbolSize":2601,"symbolStrokeWidth":2,"labelAlign":"left","labelOffset":-209,"labelFont":"Noto Sans","labelFontSize":11.5,"labelLimit":200,"columnPadding":34,"padding":0,"rowPadding":0,
"encode":{"labels":{"update":{"fill":{"signal":"datum.label=='Noise floor' ? '#5e3519' : scale('color', datum.value)"}}}}}}}},
{"data":{"name":"h5"},"transform":[{"filter":"isValid(datum.g)"}],"mark":{"type":"line","strokeWidth":1.6,"interpolate":"monotone"},"encoding":{"color":{"datum":"5th Harmonic","type":"nominal"},"detail":{"field":"g","type":"nominal"}}},
{"data":{"name":"h4"},"transform":[{"filter":"isValid(datum.g)"}],"mark":{"type":"line","strokeWidth":1.6,"interpolate":"monotone"},"encoding":{"color":{"datum":"4th Harmonic","type":"nominal"},"detail":{"field":"g","type":"nominal"}}},
{"data":{"name":"h3"},"transform":[{"filter":"isValid(datum.g)"}],"mark":{"type":"line","strokeWidth":1.6,"interpolate":"monotone"},"encoding":{"color":{"datum":"3rd Harmonic","type":"nominal"},"detail":{"field":"g","type":"nominal"}}},
{"data":{"name":"h2"},"transform":[{"filter":"isValid(datum.g)"}],"mark":{"type":"line","strokeWidth":2,"interpolate":"monotone"},"encoding":{"color":{"datum":"2nd Harmonic","type":"nominal"},"detail":{"field":"g","type":"nominal"}}},
{"data":{"name":"thd"},"mark":{"type":"line","strokeWidth":2,"interpolate":"monotone"},"encoding":{"color":{"datum":"THD H2..9","type":"nominal"}}}
]
}
